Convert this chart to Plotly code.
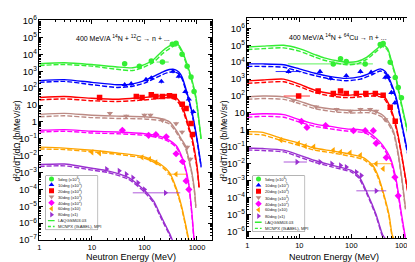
import plotly.graph_objects as go

W, H = 415, 262

# ---------------- labels / styles ----------------
angle_labels = ["5deg (x10<sup>6</sup>)", "10deg (x10<sup>5</sup>)", "20deg (x10<sup>4</sup>)",
                "30deg (x10<sup>3</sup>)", "40deg (x10<sup>2</sup>)", "60deg (x10)", "80deg (x1)"]
model_labels = ["LAQGSM03.03", "MCNPX (ISABEL), MPI"]
colors = ["#33ee33", "#0000ff", "#ff0000", "#bc8a84", "#ff00ff", "#ffa500", "#9a30d0"]
symbols = ["circle", "triangle-up", "square", "triangle-down", "diamond", "triangle-left", "triangle-right"]
x_tick_vals = [1, 10, 100, 1000]
x_tick_text = ["1", "10", "100", "1000"]

# ---------------- 14N + 12C ----------------
C_line_E = [
    [1, 3, 10, 30, 60, 100, 150, 220, 300, 380, 450, 520, 650, 800, 950, 1200],
    [1, 3, 10, 30, 60, 100, 150, 220, 300, 380, 450, 520, 650, 800, 1000, 1200],
    [1, 3, 10, 30, 60, 100, 200, 300, 400, 500, 600, 700, 800, 1000, 1100],
    [1, 3, 10, 30, 100, 200, 300, 400, 500, 600, 700, 800, 900, 950],
    [1, 3, 10, 30, 100, 200, 300, 400, 500, 600, 700, 800, 880],
    [1, 3, 10, 30, 100, 200, 300, 400, 500, 600, 700],
    [1, 3, 10, 20, 50, 100, 150, 200, 300, 340],
]
C_laqgsm = [
    [2.8e3, 3.2e3, 2.5e3, 1.8e3, 1.6e3, 2.5e3, 5.0e3, 1.6e4, 3.2e4, 4.5e4, 3.5e4, 1.6e4, 2.5e3, 3.2e2, 32, 0.1],
    [2.8e2, 3.2e2, 2.2e2, 1.6e2, 1.8e2, 2.8e2, 5.0e2, 8.9e2, 1.26e3, 1.26e3, 8.9e2, 4.5e2, 50, 4.0, 0.1, 2.5e-3],
    [28, 32, 25, 22, 25, 28, 35, 40, 28, 11, 2.5, 0.5, 0.13, 2.5e-3, 1.3e-4],
    [2.8, 3.2, 2.5, 2.2, 2.0, 1.6, 1.0, 0.32, 0.1, 0.04, 6.3e-3, 1.0e-3, 8e-5, 1e-5],
    [0.32, 0.35, 0.28, 0.25, 0.2, 0.14, 0.08, 0.04, 0.011, 2e-3, 2e-4, 4e-6, 1e-7],
    [0.032, 0.028, 0.021, 0.0145, 8.5e-3, 3.2e-3, 1e-3, 1.26e-4, 1.26e-5, 1e-6, 1e-7],
    [3.0e-3, 3.2e-3, 1.8e-3, 1.26e-3, 5e-4, 8.9e-5, 2e-5, 3.2e-6, 2.5e-7, 1e-7],
]
C_mcnpx = [
    [2.2e3, 2.5e3, 2.0e3, 1.3e3, 1.1e3, 1.8e3, 3.5e3, 1.1e4, 2.2e4, 3.2e4, 2.8e4, 1.3e4, 2.0e3, 2.5e2, 25, 0.08],
    [2.2e2, 2.5e2, 1.6e2, 1.1e2, 1.3e2, 2.0e2, 3.5e2, 6.3e2, 8.9e2, 8.9e2, 7.1e2, 3.5e2, 40, 3.2, 0.08, 2.0e-3],
    [20, 23, 18, 16, 18, 20, 25, 28, 20, 8, 1.8, 0.35, 0.09, 1.8e-3, 1.0e-4],
    [2.0, 2.3, 1.8, 1.6, 1.5, 1.2, 0.75, 0.25, 0.08, 0.03, 5e-3, 8e-4, 6e-5, 8e-6],
    [0.25, 0.28, 0.22, 0.2, 0.16, 0.11, 0.065, 0.032, 9e-3, 1.6e-3, 1.6e-4, 3e-6, 8e-8],
    [0.025, 0.023, 0.017, 0.012, 7e-3, 2.6e-3, 8e-4, 1e-4, 1e-5, 8e-7, 8e-8],
    [2.3e-3, 2.5e-3, 1.4e-3, 1.0e-3, 4e-4, 7e-5, 1.6e-5, 2.5e-6, 2e-7, 8e-8],
]
C_exp_E = [
    [42, 80, 135, 340, 400, 520, 650, 770, 880],
    [42, 56, 107, 135, 210, 350, 450, 600, 700, 850],
    [14, 70, 90, 135, 165, 220, 300, 370, 525, 620, 770, 820],
    [22, 45, 100, 130, 220, 400, 520, 650, 750],
    [38, 120, 165, 260, 400, 530, 620, 700],
    [10, 14, 90, 125, 165],
    [19, 33, 45, 60, 75, 100],
]
C_exp_V = [
    [2.8e3, 2.0e3, 4.0e3, 4.0e4, 4.5e4, 1.0e4, 2.0e3, 4.5e2, 63],
    [1.6e2, 1.8e2, 3.2e2, 4.0e2, 2.5e2, 1.0e3, 5.0e2, 63, 22, 4.0],
    [28, 32, 28, 40, 32, 32, 35, 32, 11, 6.3, 0.8, 0.18],
    [3.2, 2.2, 2.5, 2.5, 1.26, 0.8, 0.25, 0.032, 6.3e-3],
    [0.32, 0.16, 0.18, 0.13, 0.013, 4.5e-3, 3.2e-4, 1e-4],
    [0.016, 0.014, 8e-3, 6.3e-3, 4e-3],
    [1.6e-3, 1.26e-3, 8e-4, 5e-4, 2.5e-4, 1e-4],
]
# wide energy-bin points: series index, E, value, bin low, bin high
C_bin_series = [0, 5, 6]
C_bin_E = [220, 400, 250]
C_bin_V = [3.5e3, 8e-4, 6.3e-5]
C_bin_lo = [170, 270, 60]
C_bin_hi = [290, 620, 480]

# ---------------- 14N + 64Cu ----------------
Cu_line_E = [
    [1, 2, 5, 10, 20, 30, 50, 80, 130, 200, 300, 400, 500, 600, 700, 870, 1100, 1350],
    [1, 2, 5, 10, 20, 40, 80, 150, 250, 360, 450, 560, 730, 900, 1100, 1350],
    [1, 2, 5, 10, 20, 40, 80, 150, 265, 410, 560, 730, 900, 1100, 1250],
    [1, 2, 5, 10, 20, 50, 100, 250, 410, 500, 650, 800, 950, 1100],
    [1, 2, 5, 10, 20, 40, 80, 190, 300, 400, 560, 730, 910, 1100],
    [1, 2, 4.4, 10, 19, 44, 100, 170, 260, 330, 430, 530, 610, 650],
    [1, 2, 5, 10, 19, 44, 100, 140, 200, 300, 400, 500],
]
Cu_laqgsm = [
    [7.9e4, 8.9e4, 1.0e5, 6.3e4, 2.8e4, 1.8e4, 1.26e4, 1.0e4, 1.1e4, 2.0e4, 5.6e4, 1.1e5, 6.3e4, 1.0e4, 2.0e3, 79, 3.2, 0.2],
    [7.9e3, 7.9e3, 7.1e3, 4.0e3, 2.2e3, 1.4e3, 1.1e3, 1.4e3, 2.5e3, 4.0e3, 2.8e3, 7.9e2, 79, 4.0, 0.2, 0.01],
    [7.9e2, 8.9e2, 1.0e3, 5.0e2, 2.2e2, 1.4e2, 1.1e2, 1.26e2, 1.4e2, 1.1e2, 22, 1.6, 0.063, 1.6e-3, 1.6e-4],
    [89, 100, 89, 50, 25, 16, 14, 14, 7.1, 3.5, 0.8, 0.04, 1e-3, 2.5e-5],
    [7.9, 8.9, 7.9, 4.0, 2.2, 1.6, 1.15, 0.89, 0.32, 0.126, 0.023, 1.1e-3, 1.4e-5, 4e-7],
    [0.79, 0.71, 0.32, 0.16, 0.085, 0.056, 0.035, 0.023, 7.9e-3, 1.8e-3, 1.26e-4, 1e-5, 6.3e-7, 4e-7],
    [0.085, 0.079, 0.063, 0.032, 0.016, 7.9e-3, 4e-3, 1.8e-3, 2e-4, 1e-5, 6.3e-7, 2.5e-7],
]
Cu_mcnpx = [
    [5.6e4, 6.3e4, 7.0e4, 4.5e4, 2.0e4, 1.3e4, 9.0e3, 7.0e3, 8.0e3, 1.5e4, 4.2e4, 8.5e4, 5.0e4, 8.0e3, 1.6e3, 63, 2.5, 0.16],
    [5.6e3, 5.6e3, 5.0e3, 2.8e3, 1.6e3, 1.0e3, 8.0e2, 1.0e3, 1.8e3, 3.0e3, 2.2e3, 6.3e2, 63, 3.2, 0.16, 8e-3],
    [5.6e2, 6.3e2, 7.0e2, 3.6e2, 1.6e2, 1.0e2, 80, 90, 1.0e2, 80, 17, 1.2, 0.05, 1.3e-3, 1.3e-4],
    [63, 71, 63, 36, 18, 11.5, 10, 10, 5.2, 2.6, 0.6, 0.03, 8e-4, 2e-5],
    [5.6, 6.3, 5.6, 2.9, 1.6, 1.15, 0.85, 0.65, 0.24, 0.095, 0.017, 8e-4, 1.0e-5, 3e-7],
    [0.56, 0.5, 0.24, 0.12, 0.065, 0.043, 0.027, 0.018, 6.3e-3, 1.4e-3, 1e-4, 8e-6, 5e-7, 3.2e-7],
    [0.065, 0.06, 0.05, 0.025, 0.0125, 6.3e-3, 3.2e-3, 1.4e-3, 1.6e-4, 8e-6, 5e-7, 2e-7],
]
Cu_exp_E = [
    [62, 80, 185, 360, 410, 560, 700, 800, 920],
    [25, 40, 80, 150, 240, 450, 510, 590, 690],
    [23, 45, 62, 80, 125, 190, 290, 410, 560, 700],
    [7.8, 21, 52, 96, 150, 230, 300, 450],
    [11, 14, 32, 110, 185, 265, 300, 470, 690, 800],
    [4.4, 9.6, 13, 19, 45, 62, 95, 150, 410],
    [25, 42, 62, 80, 125, 155],
]
Cu_exp_V = [
    [1.6e4, 1.1e4, 7.9e3, 1.1e5, 1.26e5, 1.0e4, 1.26e3, 3.2e2, 79],
    [2.8e3, 1.1e3, 1.6e3, 2.8e3, 2.5e3, 1.26e3, 1.4e3, 1.6e2, 40],
    [2.0e2, 1.4e2, 2.0e2, 1.4e2, 1.4e2, 1.4e2, 1.4e2, 1.1e2, 22, 3.2],
    [56, 23, 16, 12.6, 16, 16, 12.6, 4.0],
    [3.2, 1.4, 1.8, 0.9, 0.9, 0.9, 0.16, 0.023, 1.6e-3, 1.26e-4],
    [0.25, 0.16, 0.11, 0.1, 0.063, 0.05, 0.045, 0.032, 5e-3],
    [0.0126, 0.01, 7.9e-3, 6.3e-3, 3.2e-3, 2e-3],
]
Cu_bin_series = [0, 1, 2, 5, 6, 6]
Cu_bin_E = [45, 6.2, 9.7, 300, 9, 300]
Cu_bin_V = [7.9e3, 2.8e3, 1.0e2, 0.01, 0.0126, 2.5e-4]
Cu_bin_lo = [6, 3.5, 5, 250, 5, 125]
Cu_bin_hi = [260, 11, 16, 600, 14, 470]


def pxx(x):
    return x / W


def pxy(y):
    return 1 - y / H


fig = go.Figure()

panels = [
    ("x", "y", C_line_E, C_laqgsm, C_mcnpx, C_exp_E, C_exp_V,
     C_bin_series, C_bin_E, C_bin_V, C_bin_lo, C_bin_hi),
    ("x2", "y2", Cu_line_E, Cu_laqgsm, Cu_mcnpx, Cu_exp_E, Cu_exp_V,
     Cu_bin_series, Cu_bin_E, Cu_bin_V, Cu_bin_lo, Cu_bin_hi),
]

for xa, ya, lE, sol, das, eE, eV, bS, bE, bV, bLo, bHi in panels:
    for i in range(7):
        fig.add_trace(go.Scatter(x=lE[i], y=das[i], mode="lines", xaxis=xa, yaxis=ya,
                                 line=dict(color=colors[i], width=1.4, dash="5px,2px",
                                           shape="spline", smoothing=0.6),
                                 showlegend=False, hoverinfo="skip"))
        fig.add_trace(go.Scatter(x=lE[i], y=sol[i], mode="lines", xaxis=xa, yaxis=ya,
                                 line=dict(color=colors[i], width=1.4, shape="spline", smoothing=0.6),
                                 showlegend=False, hoverinfo="skip"))
    for i in range(7):
        fig.add_trace(go.Scatter(x=eE[i], y=eV[i], mode="markers", xaxis=xa, yaxis=ya,
                                 marker=dict(symbol=symbols[i], color=colors[i], size=5.5),
                                 error_y=dict(type="percent", value=25, color=colors[i],
                                              thickness=0.8, width=0),
                                 showlegend=False))
    for k in range(len(bS)):
        i = bS[k]
        fig.add_trace(go.Scatter(x=[bE[k]], y=[bV[k]], mode="markers", xaxis=xa, yaxis=ya,
                                 marker=dict(symbol=symbols[i], color=colors[i], size=5.5),
                                 error_x=dict(type="data", symmetric=False,
                                              array=[bHi[k] - bE[k]], arrayminus=[bE[k] - bLo[k]],
                                              color=colors[i], thickness=0.8, width=0),
                                 error_y=dict(type="percent", value=25, color=colors[i],
                                              thickness=0.8, width=0),
                                 showlegend=False))

# ---------------- legends (drawn on hidden axes) ----------------
legend_boxes = [("x3", "y3", 36, 88, 169, 225), ("x4", "y4", 244, 296, 169, 227)]
shapes = []
annotations = []
for xa, ya, x0, x1, y0, y1 in legend_boxes:
    shapes.append(dict(type="rect", xref="paper", yref="paper", x0=pxx(x0), x1=pxx(x1),
                       y0=pxy(y1), y1=pxy(y0), line=dict(color="#555", width=0.8),
                       fillcolor="white", layer="below"))
    for i in range(7):
        fig.add_trace(go.Scatter(x=[0.11], y=[8.5 - i], mode="markers", xaxis=xa, yaxis=ya,
                                 marker=dict(symbol=symbols[i], color=colors[i], size=5),
                                 showlegend=False, hoverinfo="skip"))
        annotations.append(dict(x=0.2, y=8.5 - i, xref=xa, yref=ya, text=angle_labels[i],
                                showarrow=False, xanchor="left", yanchor="middle",
                                font=dict(size=4.2, color="#222")))
    for j, dash in enumerate(["solid", "3px,2px"]):
        fig.add_trace(go.Scatter(x=[0.04, 0.17], y=[1.5 - j, 1.5 - j], mode="lines",
                                 xaxis=xa, yaxis=ya,
                                 line=dict(color=colors[0], width=1.4, dash=dash),
                                 showlegend=False, hoverinfo="skip"))
        annotations.append(dict(x=0.2, y=1.5 - j, xref=xa, yref=ya, text=model_labels[j],
                                showarrow=False, xanchor="left", yanchor="middle",
                                font=dict(size=4.2, color="#222")))

# ---------------- titles ----------------
def label(x, y, text, size, angle=0):
    return dict(x=pxx(x), y=pxy(y), xref="paper", yref="paper", showarrow=False,
                xanchor="center", yanchor="middle", textangle=angle, text=text,
                font=dict(size=size), borderpad=0)


annotations += [
    label(114, 25, "400 MeV/A <sup>14</sup>N + <sup>12</sup>C \u2192 n + ...", 7),
    label(330, 24, "400 MeV/A <sup>14</sup>N + <sup>64</sup>Cu \u2192 n + ...", 7),
    label(7, 132, "d<sup>2</sup>\u03c3/dT/d\u03a9 (b/MeV/sr)", 8.5, -90),
    label(215, 132, "d<sup>2</sup>\u03c3/dT/d\u03a9 (b/MeV/sr)", 8.5, -90),
    label(122, 253.5, "Neutron Energy (MeV)", 9),
    label(326, 253.5, "Neutron Energy (MeV)", 9),
]

common = dict(type="log", showline=True, linecolor="black", linewidth=1, mirror="ticks",
              ticks="inside", ticklen=4, tickcolor="black", showgrid=False, zeroline=False,
              tickfont=dict(size=7.5, color="black"))
minor = dict(ticks="inside", ticklen=2, tickcolor="black", showgrid=False, dtick="D1")

xcommon = dict(common, tickmode="array", tickvals=x_tick_vals, ticktext=x_tick_text, minor=minor)
ycommon = dict(common, dtick=1, exponentformat="power", minor=minor)

hidden = dict(visible=False, fixedrange=True, showgrid=False, zeroline=False)

fig.update_layout(
    width=W, height=H, autosize=False,
    margin=dict(l=0, r=0, t=0, b=0),
    paper_bgcolor="white", plot_bgcolor="white",
    font=dict(family="Liberation Sans, Arial, sans-serif", color="black"),
    showlegend=False,
    xaxis=dict(xcommon, domain=[pxx(29.5), pxx(203)], range=[0, 3.286], anchor="y"),
    yaxis=dict(ycommon, domain=[pxy(236), pxy(6)], range=[-7, 6.05], anchor="x"),
    xaxis2=dict(xcommon, domain=[pxx(238.5), pxx(414)], range=[0, 3.36], anchor="y2"),
    yaxis2=dict(ycommon, domain=[pxy(234), pxy(4)], range=[-6.4, 6.62], anchor="x2"),
    xaxis3=dict(hidden, domain=[pxx(36), pxx(88)], range=[0, 1], anchor="y3"),
    yaxis3=dict(hidden, domain=[pxy(225), pxy(169)], range=[0, 9], anchor="x3"),
    xaxis4=dict(hidden, domain=[pxx(244), pxx(296)], range=[0, 1], anchor="y4"),
    yaxis4=dict(hidden, domain=[pxy(227), pxy(169)], range=[0, 9], anchor="x4"),
    shapes=shapes,
    annotations=annotations,
)

fig.write_html("out.html")
